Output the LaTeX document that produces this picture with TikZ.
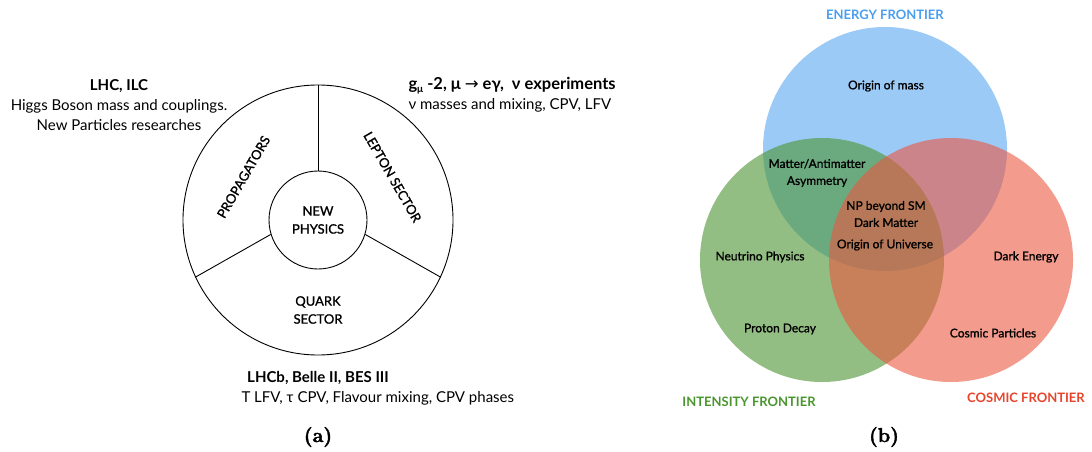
\documentclass[tikz,border=0pt]{standalone}
\usepackage{fontspec}
\usepackage{xcolor}
\usepackage{tikz}
\usetikzlibrary{positioning, calc}
\newfontfamily\lato{Lato}
\newfontfamily\latomed{Lato}[FakeBold=1.2]
\newfontfamily\djv{DejaVu Sans}
\newfontfamily\capfont{Latin Modern Roman}[FakeBold=2]
\definecolor{energyfill}{RGB}{90,167,242}
\definecolor{intensityfill}{RGB}{75,147,48}
\definecolor{cosmicfill}{RGB}{235,88,65}
\definecolor{energytext}{RGB}{74,158,240}
\definecolor{intensitytext}{RGB}{74,150,46}
\definecolor{cosmictext}{RGB}{232,68,44}

\begin{document}
\begin{tikzpicture}[x=1pt, y=-1pt,
    wheel/.style={draw, circle, line width=0.9pt, inner sep=0pt},
    spoke/.style={line width=0.9pt},
    sector/.style={align=center, font=\latomed\fontsize{13}{18}\selectfont},
    info/.style={align=center, font=\lato\fontsize{15}{20}\selectfont},
    venn/.style={circle, minimum size=244pt, inner sep=0pt, fill opacity=0.6},
    topic/.style={align=center, font=\latomed\fontsize{12}{17}\selectfont},
    frontier/.style={font=\lato\bfseries\fontsize{13}{15}\selectfont},
    caption/.style={font=\capfont\bfseries\fontsize{20}{22}\selectfont}
]
\useasboundingbox (0,0) rectangle (1092,452);

% (a) the wheel
\node[wheel, minimum size=270pt] (outer) at (318,220) {};
\node[wheel, minimum size=98pt, sector] (core) at (318,220) {NEW\\PHYSICS};
\draw[spoke] (outer.90) -- (core.90);
\draw[spoke] (core.197) -- (outer.205);
\draw[spoke] (core.-17) -- (outer.-25);
\node[sector, rotate=60] (propagators) at ($(core)+(150:86pt)$) {PROPAGATORS};
\node[sector, rotate=-60] (lepton) at ($(core)+(30:86pt)$) {LEPTON SECTOR};
\node[sector] (quark) at ($(core)+(270:90pt)$) {QUARK\\SECTOR};

\node[info] (lhcnote) at (119,105) {{\bfseries LHC, ILC}\\Higgs Boson mass and couplings.\\New Particles researches};
\node[info, align=left, anchor=west] (leptonnote) at (405,95)
    {{\bfseries\fontsize{16.5}{20}\selectfont g{\fontsize{10}{10}\selectfont\raisebox{-2.5pt}{μ}} -2, μ {\djv\mdseries →} eγ,\ \ ν experiments}\\ν masses and mixing, CPV, LFV};
\node[info, font=\lato\bfseries\fontsize{15}{20}\selectfont] (quarkhead) at (318,378) {LHCb, Belle II, BES III};
\node[info, anchor=west] (quarknote) at (238,398) {T LFV, τ CPV, Flavour mixing, CPV phases};

\node[caption] (capa) at (318,437) {(a)};

% (b) the frontiers
\node[venn, fill=energyfill] (energy) at (885,149) {};
\node[venn, fill=intensityfill] (intensity) at (822,260) {};
\node[venn, fill=cosmicfill] (cosmic) at (951,260) {};

\node[frontier, text=energytext] (energylabel) at (885,15) {ENERGY FRONTIER};
\node[frontier, text=intensitytext] (intensitylabel) at (749,402) {INTENSITY FRONTIER};
\node[frontier, text=cosmictext] (cosmiclabel) at (1026,398) {COSMIC FRONTIER};

\node[topic] (mass) at (886,86) {Origin of mass};
\node[topic] (antimatter) at (817,173) {Matter/Antimatter\\Asymmetry};
\node[topic] (beyond) at (886,214) {NP beyond SM\\Dark Matter};
\node[topic] (universe) at (885,245) {Origin of Universe};
\node[topic] (neutrino) at (760,257) {Neutrino Physics};
\node[topic] (darkenergy) at (1026,257) {Dark Energy};
\node[topic] (proton) at (780,329) {Proton Decay};
\node[topic] (particles) at (993,333) {Cosmic Particles};

\node[caption] (capb) at (884,437) {(b)};
\end{tikzpicture}
\end{document}
